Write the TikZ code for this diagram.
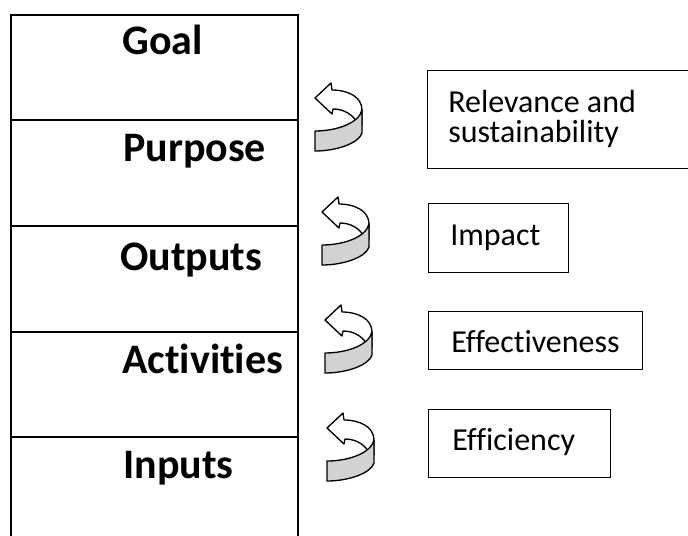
\documentclass[tikz,border=0pt]{standalone}
\usepackage{fontspec}
\setmainfont{Carlito}[Ligatures=NoCommon]
\definecolor{ribbongray}{RGB}{210,210,210}
\tikzset{
  uturn/.pic={
    \filldraw[ribbonback] (0,15) -- (16,0) -- (17,7) .. controls (33,7) and (47,14) .. (47,27)
      -- (47,42) -- (41,42) -- (41,38) .. controls (37,31) and (28,26) .. (18,26) -- (17,31) -- cycle;
    \filldraw[ribbonfront] (0,48) .. controls (22,48) and (44,40) .. (47,27)
      -- (47,50) .. controls (44,60) and (22,68) .. (0,68) -- cycle;
  }
}
\begin{document}
\begin{tikzpicture}[x=0.75pt,y=-0.75pt,
  frameline/.style={line width=1.4pt},
  stagelabel/.style={anchor=base west, inner sep=0pt, font=\fontsize{31.5}{38}\selectfont\bfseries},
  boxtext/.style={anchor=base west, inner sep=0pt, font=\fontsize{24}{28}\selectfont},
  tagbox/.style={draw, line width=1pt, anchor=north west, inner sep=0pt},
  ribbonback/.style={fill=white, draw=black, line width=1pt, line join=round},
  ribbonfront/.style={fill=ribbongray, draw=black, line width=1pt, line join=round}]
\useasboundingbox (0,0) rectangle (688,535);
\clip (0,0) rectangle (688,535);

% left column frame
\coordinate (tl) at (11,15);
\coordinate (tr) at (298,15);
\coordinate (bl) at (11,540);
\coordinate (br) at (298,540);
\draw[frameline] (bl) -- (tl) -- (tr) -- (br);
\foreach \yy/\nm in {120/d1,226/d2,332/d3,437/d4}{
  \coordinate (\nm l) at (11,\yy);
  \coordinate (\nm r) at (298,\yy);
  \draw[frameline] (\nm l) -- (\nm r);
}

% stage labels
\node[stagelabel] (goal) at (122,55) {Goal};
\node[stagelabel] (purpose) at (123,161) {Purpose};
\node[stagelabel] (outputs) at (120,270) {Outputs};
\node[stagelabel] (activities) at (122,373) {Activities};
\node[stagelabel] (inputs) at (123,478) {Inputs};

% u-turn arrows
\pic (arrowA) at (315,83) {uturn};
\pic (arrowB) at (322,197) {uturn};
\pic (arrowC) at (325,305) {uturn};
\pic (arrowD) at (327,413) {uturn};

% criteria boxes
\node[tagbox, minimum width=204.75pt, minimum height=73.5pt] (relbox) at (427,70) {};
\node[boxtext] (rel1) at (448,112) {Relevance and};
\node[boxtext] (rel2) at (448,142) {sustainability};

\node[tagbox, minimum width=105pt, minimum height=51.75pt] (impbox) at (428,203) {};
\node[boxtext] (imp) at (450,245) {Impact};

\node[tagbox, minimum width=160.5pt, minimum height=43.5pt] (effbox) at (428,311) {};
\node[boxtext] (eff) at (451,352) {Effectiveness};

\node[tagbox, minimum width=136.5pt, minimum height=51pt] (efcbox) at (428,409) {};
\node[boxtext] (efc) at (452,450) {Efficiency};
\end{tikzpicture}
\end{document}
